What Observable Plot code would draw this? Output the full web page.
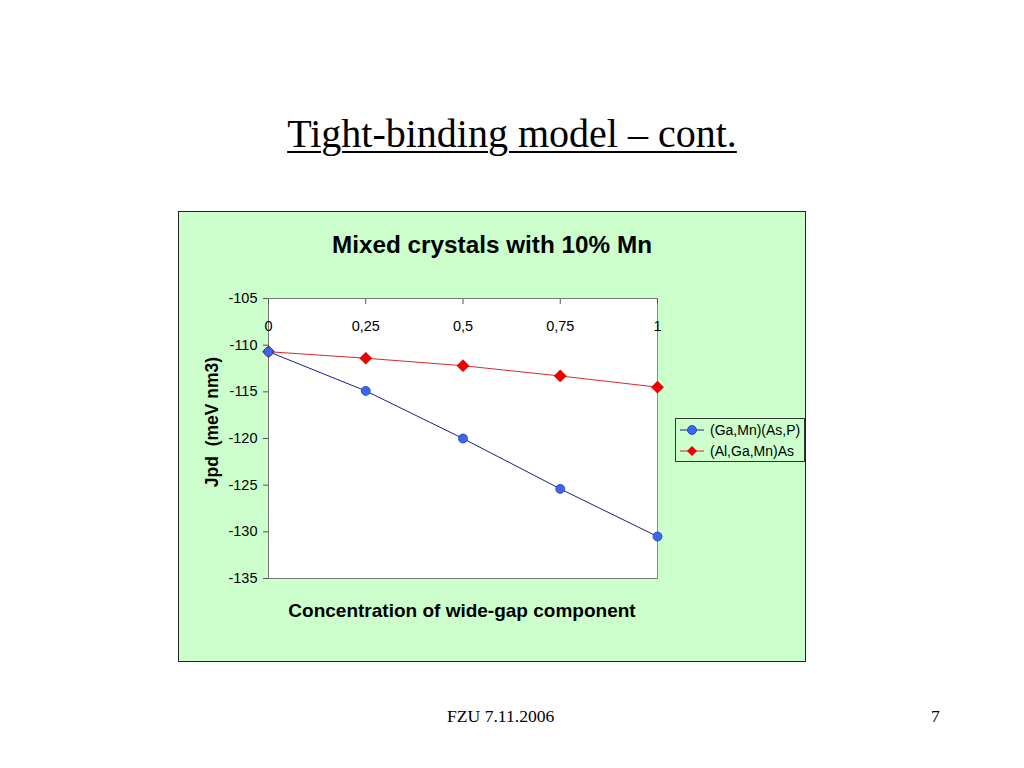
<!DOCTYPE html>
<html>
<head>
<meta charset="utf-8">
<script src="https://cdn.jsdelivr.net/npm/d3@7"></script>
<script src="https://cdn.jsdelivr.net/npm/@observablehq/plot@0.6"></script>
<style>
  html, body { margin: 0; padding: 0; background: #fff; }
  #slide { position: relative; width: 1024px; height: 768px; overflow: hidden; background: #fff; }
  .abs { position: absolute; white-space: pre; }
  #title { left: 0; width: 1024px; top: 114px; text-align: center; font: 40px/40px "Liberation Serif", "Times New Roman", serif; color: #000; }
  #title span { text-decoration: underline; text-decoration-thickness: 2px; text-underline-offset: 4px; }
  #box { left: 178px; top: 211px; width: 628px; height: 451px; box-sizing: border-box; border: 1px solid #222; background: #ccffcc; }
  #chart { left: 178px; top: 211px; }
  #ctitle { left: 292px; width: 400px; top: 233px; text-align: center; font: bold 24.3px/24px "Liberation Sans", Arial, sans-serif; color: #000; }
  #xlabel { left: 162px; width: 600px; top: 601px; text-align: center; font: bold 19px/19px "Liberation Sans", Arial, sans-serif; color: #000; }
  #ylabel { left: 213px; top: 422px; transform: translate(-50%, -50%) rotate(-90deg); font: bold 17.5px/17.5px "Liberation Sans", Arial, sans-serif; color: #000; }
  #legend { left: 675px; top: 418px; width: 130px; height: 44px; box-sizing: border-box; border: 1px solid #333; background: transparent; font: 14px/22px "Liberation Sans", Arial, sans-serif; color: #000; }
  #legend .row { display: flex; align-items: center; height: 21px; padding-left: 4px; }
  #legend svg { margin-right: 6px; }
  .footer { top: 708px; font: 17.6px/17.6px "Liberation Serif", "Times New Roman", serif; color: #000; }
</style>
</head>
<body>
<div id="slide">
  <div id="title" class="abs"><span>Tight-binding model – cont.</span></div>
  <div id="box" class="abs"></div>
  <div id="chart" class="abs"></div>
  <div id="ctitle" class="abs">Mixed crystals with 10% Mn</div>
  <div id="ylabel" class="abs">Jpd  (meV nm3)</div>
  <div id="xlabel" class="abs">Concentration of wide-gap component</div>
  <div id="legend" class="abs"></div>
  <div class="abs footer" style="left:447px">FZU 7.11.2006</div>
  <div class="abs footer" style="left:931px">7</div>
</div>
<script>
// ---- data ----
const concentration = [0, 0.25, 0.5, 0.75, 1];
const gaMnAsP = [-110.7, -114.9, -120.0, -125.4, -130.5];
const alGaMnAs = [-110.7, -111.4, -112.2, -113.3, -114.5];
const seriesNames = ["(Ga,Mn)(As,P)", "(Al,Ga,Mn)As"];
const xTickValues = [0, 0.25, 0.5, 0.75, 1];
const xTickLabels = ["0", "0,25", "0,5", "0,75", "1"];
const yTickValues = [-105, -110, -115, -120, -125, -130, -135];
const yTickLabels = ["-105", "-110", "-115", "-120", "-125", "-130", "-135"];

const blueLine = "#1c1c8a", blueFill = "#3a66f0", blueStroke = "#2040b0";
const redLine = "#d42a2a", redFill = "#ee0000";

const blueData = concentration.map((x, i) => ({x, y: gaMnAsP[i]}));
const redData = concentration.map((x, i) => ({x, y: alGaMnAs[i]}));

const chart = Plot.plot({
  width: 628,
  height: 451,
  marginLeft: 90,
  marginRight: 149,
  marginTop: 87,
  marginBottom: 84,
  style: {background: "transparent", fontFamily: "Liberation Sans, Arial, sans-serif", color: "#000"},
  x: {domain: [0, 1]},
  y: {domain: [-135, -105]},
  marks: [
    Plot.frame({fill: "white", stroke: "#8a8a8a"}),
    Plot.ruleX([0], {stroke: "#777"}),
    Plot.ruleY([-135], {stroke: "#777"}),
    Plot.ruleY([-105], {stroke: "#777"}),
    Plot.axisY({
      anchor: "left", ticks: yTickValues, tickSize: 5, tickPadding: 6,
      tickFormat: (d) => yTickLabels[yTickValues.indexOf(d)],
      fontSize: 14.5, stroke: "#555", label: null
    }),
    Plot.axisX({
      anchor: "top", ticks: xTickValues, tickSize: -5, tickFormat: () => "",
      stroke: "#555", label: null
    }),
    Plot.text(xTickValues, {
      x: (d) => d, frameAnchor: "top", dy: 22,
      text: (d, i) => xTickLabels[i], fontSize: 14.5, fill: "#000"
    }),
    Plot.line(blueData, {x: "x", y: "y", stroke: blueLine, strokeWidth: 1}),
    Plot.line(redData, {x: "x", y: "y", stroke: redLine, strokeWidth: 1}),
    Plot.dot(redData, {x: "x", y: "y", symbol: "diamond2", r: 5.5, fill: redFill, stroke: "#c00000", strokeWidth: 0.5}),
    Plot.dot(blueData, {x: "x", y: "y", symbol: "circle", r: 4.5, fill: blueFill, stroke: blueStroke, strokeWidth: 0.8})
  ]
});
document.getElementById("chart").appendChild(chart);

// legend
const legend = document.getElementById("legend");
const legendItems = [
  {name: seriesNames[0], line: blueLine, marker: `<circle cx="12" cy="6" r="4.5" fill="${blueFill}" stroke="${blueStroke}" stroke-width="0.8"/>`},
  {name: seriesNames[1], line: redLine, marker: `<path d="M12,1 L17,6 L12,11 L7,6 Z" fill="${redFill}"/>`}
];
for (const it of legendItems) {
  const row = document.createElement("div");
  row.className = "row";
  row.innerHTML = `<svg width="24" height="12"><line x1="0" x2="24" y1="6" y2="6" stroke="${it.line}" stroke-width="1"/>${it.marker}</svg><span>${it.name}</span>`;
  legend.appendChild(row);
}
</script>
</body>
</html>
